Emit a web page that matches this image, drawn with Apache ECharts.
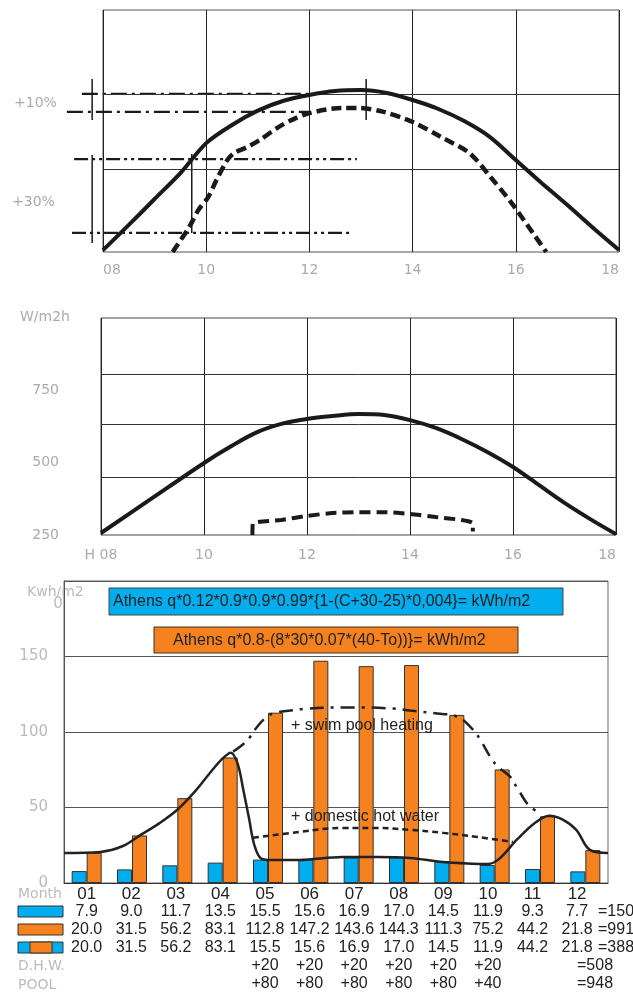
<!DOCTYPE html>
<html><head><meta charset="utf-8">
<script src="https://cdn.jsdelivr.net/npm/echarts@6/dist/echarts.min.js"></script>
<style>html,body{margin:0;padding:0;background:#fff}#c{width:633px;height:998px}</style>
</head><body><div id="c"></div>
<script>
// ---------- Panel 1 (relative output vs hour) ----------
const topHours = [8,8.5,9,9.5,10,10.5,11,11.5,12,12.5,13,13.5,14,14.5,15,15.5,16,16.5,17,17.5,18];
const topSolid = [0.8,11.2,21.9,32.6,45.0,52.5,58.4,62.5,64.9,66.5,66.9,65.7,62.8,59.1,54.1,47.5,38.0,28.5,19.4,9.9,0.8];
const topDashHours = [9.35,9.67,9.85,10.04,10.2,10.41,10.54,10.8,11.04,11.37,11.65,12,12.64,12.96,13.44,14,14.55,15.1,15.51,15.92,16.33,16.59];
const topDashVals = [0,10.3,17.4,22.7,29.8,38.0,40.9,43.4,46.3,51.2,54.5,57.4,59.5,59.5,57.9,53.7,47.5,40.9,31.0,20.2,7.9,0];
const topGridY = [65.3, 34.3];
const refY = [65.3, 57.9, 38.4, 7.9];
const refStart = [7.59, 7.30, 7.44, 7.40];
const refEnd = [12.2, 12.0, 12.92, 12.81];
const refKind = ['dd', 'dd', 'ddd', 'ddd'];
const markX = [7.79, 7.79, 13.1, 9.72];
const markY0 = [54.5, 3.7, 54.5, 7.9];
const markY1 = [71.5, 40.1, 71.5, 40.5];
const topLabels = ['+10%', '+30%'];

// ---------- Panel 2 (W/m2h vs hour) ----------
const midHours = [8,9,10,10.5,11,11.5,12,12.5,13,13.5,14,14.5,15,15.5,16,16.5,17,17.5,18];
const midSolid = [257,378,499,554,603,634,651,661,668,665,647,620,582,537,485,423,361,305,253];
const midDashHours = [10.94,10.95,11.5,12,12.5,13,13.5,14,14.5,15,15.22,15.22];
const midDashVals = [250,290,302,316,326,329,329,323,312,302,291,262];
const midGridY = [450, 634, 806];

// ---------- Panel 3 (monthly kWh/m2) ----------
const months = ['01','02','03','04','05','06','07','08','09','10','11','12'];
const blueVals = [7.9,9.0,11.7,13.5,15.5,15.6,16.9,17.0,14.5,11.9,9.3,7.7];
const orangeVals = [20.0,31.5,56.2,83.1,112.8,147.2,143.6,144.3,111.3,75.2,44.2,21.8];
const mixedVals = [20.0,31.5,56.2,83.1,15.5,15.6,16.9,17.0,14.5,11.9,44.2,21.8];
const dhwRow = ['','','','','+20','+20','+20','+20','+20','+20','',''];
const poolRow = ['','','','','+80','+80','+80','+80','+80','+40','',''];
const totals = ['=150','=991','=388','=508','=948'];
const combPos = [0.5,1.3,1.8,2.2,2.6,3.0,3.4,3.75,4.0,4.18,4.33,4.46,4.58,4.7,4.85,5.1,5.7,6.65,7.4,8.13,8.86,9.5,9.85,10.1,10.5,10.9,11.2,11.5,11.8,12.1,12.5];
const combVals = [19.9,20.6,24.5,32,39.5,48.5,61,74,82.5,86.3,79,61,43,25,16.2,15.2,15.3,17.3,17.3,16.6,13.9,12.8,12.6,16,29,40,44.5,42,35.2,21.9,19.9];
const poolPos = [4.23,4.54,4.71,4.98,5.2,5.49,5.86,6.65,7.1,7.76,8.13,8.73,9.17,9.52,9.68,9.9,10.07,10.34,10.52,10.78,11.04];
const poolVals = [87,94.3,101.6,110.2,112.9,114.2,115.5,116.2,116.2,115.5,114.2,112.2,110.2,101.6,95,83.7,77,70.4,61.8,50.5,46.5];
const dhwPos = [4.67,5.71,6.65,7.4,8.13,8.86,9.61,10.4];
const dhwVals = [29.9,33.9,36.5,36.5,35.2,33.2,30.5,27.2];

const zip = (a, b) => a.map((v, i) => [v, b[i]]);
const GRAY = '#aaaaaa';
const DK = '#1a1a1a';
const grayFont = '14px "DejaVu Sans"';
const txtFont = '16px "Liberation Sans"';

const series = [];
// Panel 1
series.push({type:'line', xAxisIndex:0, yAxisIndex:0, data: zip(topHours, topSolid), smooth:0.3, showSymbol:false,
  lineStyle:{color:DK, width:4}, z:5,
  markLine:{silent:true, symbol:'none', label:{show:false}, lineStyle:{color:'#333', width:1, type:'solid'},
    data: topGridY.map(v => ({yAxis:v}))}});
series.push({type:'line', xAxisIndex:0, yAxisIndex:0, data: zip(topDashHours, topDashVals), smooth:0.3, showSymbol:false,
  lineStyle:{color:DK, width:4.5, type:[10,5]}, z:5});
// annotation lines on the wider overlay axes (grid 3)
refY.forEach((y, i) => series.push({type:'line', xAxisIndex:4, yAxisIndex:3, showSymbol:false,
  data:[[refStart[i], y],[refEnd[i], y]],
  lineStyle:{color:DK, width:2.2, type: refKind[i]==='dd' ? [16,5,3,5] : [14,4,3,4,3,4]}, z:4}));
markX.forEach((x, i) => series.push({type:'line', xAxisIndex:4, yAxisIndex:3, showSymbol:false,
  data:[[x, markY0[i]],[x, markY1[i]]], lineStyle:{color:DK, width:1.5}, z:4}));
// Panel 2
series.push({type:'line', xAxisIndex:1, yAxisIndex:1, data: zip(midHours, midSolid), smooth:0.3, showSymbol:false,
  lineStyle:{color:DK, width:4}, z:5,
  markLine:{silent:true, symbol:'none', label:{show:false}, lineStyle:{color:'#333', width:1, type:'solid'},
    data: midGridY.map(v => ({yAxis:v}))}});
series.push({type:'line', xAxisIndex:1, yAxisIndex:1, data: zip(midDashHours, midDashVals), smooth:0.2, showSymbol:false,
  lineStyle:{color:DK, width:4, type:[11,6]}, z:5});
// Panel 3 bars
series.push({type:'bar', xAxisIndex:2, yAxisIndex:2, data: blueVals, barWidth:15, barGap:'0%',
  itemStyle:{color:'#00AEEF', borderColor:'#333', borderWidth:1}});
series.push({type:'bar', xAxisIndex:2, yAxisIndex:2, data: orangeVals, barWidth:15, barGap:'0%',
  itemStyle:{color:'#F5821F', borderColor:'#333', borderWidth:1}});
// Panel 3 curves
series.push({type:'line', xAxisIndex:3, yAxisIndex:2, data: zip(combPos, combVals), smooth:0.35, showSymbol:false,
  lineStyle:{color:'#222', width:2.5}, z:6});
series.push({type:'line', xAxisIndex:3, yAxisIndex:2, data: zip(poolPos, poolVals), smooth:0.4, showSymbol:false,
  lineStyle:{color:'#222', width:2.5, type:[14,7,3,7]}, z:6});
series.push({type:'line', xAxisIndex:3, yAxisIndex:2, data: zip(dhwPos, dhwVals), smooth:0.4, showSymbol:false,
  lineStyle:{color:'#222', width:2.5, type:[6,4]}, z:6});

const two = v => (v < 10 ? '0' : '') + v;

// per-column rich styles: the table columns drift slightly left as in the source
const rich = {};
months.forEach((m, i) => {
  const pad = [0, 1.5 * i, 0, 0];
  rich['m' + i] = {fontSize:17, fontFamily:'Liberation Sans', color:'#222', lineHeight:18, padding:pad};
  rich['v' + i] = {fontSize:16, fontFamily:'Liberation Sans', color:'#222', lineHeight:18, padding:pad};
});

const option = {
  animation:false,
  backgroundColor:'#fff',
  grid:[
    {left:103, top:10, width:516, height:242, show:true, borderColor:'#555', borderWidth:1, outerBoundsMode:'none'},
    {left:101, top:318, width:515, height:217, show:true, borderColor:'#444', borderWidth:1, outerBoundsMode:'none'},
    {left:64, top:581, width:544, height:302, show:true, borderColor:'#666', borderWidth:1, outerBoundsMode:'none'},
    {left:60, top:10, width:559, height:242, show:false, outerBoundsMode:'none'}
  ],
  xAxis:[
    {gridIndex:0, type:'value', min:8, max:18, interval:2, axisLine:{show:false}, axisTick:{show:false},
      splitLine:{show:true, lineStyle:{color:'#222', width:1}},
      axisLabel:{formatter:two, color:GRAY, fontSize:14, fontFamily:'DejaVu Sans', margin:11, alignMinLabel:'left', alignMaxLabel:'right'}},
    {gridIndex:1, type:'value', min:8, max:18, interval:2, axisLine:{show:false}, axisTick:{show:false},
      splitLine:{show:true, lineStyle:{color:'#222', width:1}},
      axisLabel:{formatter: v => v === 8 ? 'H 08' : two(v), color:GRAY, fontSize:14, fontFamily:'DejaVu Sans', margin:13, alignMaxLabel:'right'}},
    {gridIndex:2, type:'category', data: months, axisLine:{show:true, lineStyle:{color:'#333'}}, axisTick:{show:false},
      splitLine:{show:false},
      axisLabel:{interval:0, margin:2, lineHeight:18,
        formatter:(v, i) => ['{m' + i + '|' + months[i] + '}', '{v' + i + '|' + blueVals[i].toFixed(1) + '}', '{v' + i + '|' + orangeVals[i].toFixed(1) + '}',
          '{v' + i + '|' + mixedVals[i].toFixed(1) + '}', '{v' + i + '|' + dhwRow[i] + '}', '{v' + i + '|' + poolRow[i] + '}'].join('\n'),
        rich: rich}},
    {gridIndex:2, type:'value', min:0.5, max:12.5, show:false, position:'top'},
    {gridIndex:3, type:'value', min:8 - 43/51.6, max:18, show:false}
  ],
  yAxis:[
    {gridIndex:0, type:'value', min:0, max:100, show:false},
    {gridIndex:1, type:'value', min:250, max:1000, interval:250, axisLine:{show:false}, axisTick:{show:false}, splitLine:{show:false},
      axisLabel:{formatter: v => v === 1000 ? '' : String(v), color:GRAY, fontSize:14, fontFamily:'DejaVu Sans', margin:42}},
    {gridIndex:2, type:'value', min:0, max:200, interval:50, axisLine:{show:true, lineStyle:{color:'#555'}}, axisTick:{show:false},
      splitLine:{show:true, lineStyle:{color:'#555', width:1, type:'solid'}},
      axisLabel:{formatter: v => v === 200 ? '' : String(v), color:'#bbb', fontSize:15, fontFamily:'DejaVu Sans', margin:16}},
    {gridIndex:3, type:'value', min:0, max:100, show:false}
  ],
  series: series,
  graphic:[
    {type:'text', x:14, y:103, style:{text:topLabels[0], fill:GRAY, font:grayFont, verticalAlign:'middle'}},
    {type:'text', x:12, y:202, style:{text:topLabels[1], fill:GRAY, font:grayFont, verticalAlign:'middle'}},
    {type:'text', x:20, y:317, style:{text:'W/m2h', fill:GRAY, font:grayFont, verticalAlign:'middle'}},
    {type:'text', x:27, y:592, style:{text:'Kwh/m2', fill:'#bbb', font:grayFont, verticalAlign:'middle'}},
    {type:'text', x:58, y:604, style:{text:'0', fill:'#bbb', font:'15px "DejaVu Sans"', align:'center', verticalAlign:'middle'}},
    {type:'rect', shape:{x:109, y:588, width:454, height:27}, style:{fill:'#00AEEF', stroke:'#444', lineWidth:1}, z:10},
    {type:'text', x:113, y:602, z:11, style:{text:'Athens q*0.12*0.9*0.9*0.99*{1-(C+30-25)*0,004}= kWh/m2', fill:'#222', font:txtFont, verticalAlign:'middle'}},
    {type:'rect', shape:{x:154, y:627, width:364, height:26}, style:{fill:'#F5821F', stroke:'#333', lineWidth:1}, z:10},
    {type:'text', x:173, y:641, z:11, style:{text:'Athens q*0.8-(8*30*0.07*(40-To))}= kWh/m2', fill:'#222', font:txtFont, verticalAlign:'middle'}},
    {type:'text', x:291, y:726, z:11, style:{text:'+ swim pool heating', fill:'#222', font:txtFont, verticalAlign:'middle'}},
    {type:'text', x:291, y:817, z:11, style:{text:'+ domestic hot water', fill:'#222', font:txtFont, verticalAlign:'middle'}},
    {type:'text', x:18, y:894, style:{text:'Month', fill:'#bbb', font:grayFont, verticalAlign:'middle'}},
    {type:'rect', shape:{x:18, y:906, width:45, height:11}, style:{fill:'#00AEEF', stroke:'#333', lineWidth:1}},
    {type:'rect', shape:{x:18, y:924, width:45, height:11}, style:{fill:'#F5821F', stroke:'#333', lineWidth:1}},
    {type:'rect', shape:{x:18, y:942, width:45, height:11}, style:{fill:'#00AEEF', stroke:'#333', lineWidth:1}},
    {type:'rect', shape:{x:30, y:942, width:22, height:11}, style:{fill:'#F5821F', stroke:'#333', lineWidth:1}},
    {type:'text', x:18, y:966, style:{text:'D.H.W.', fill:'#bbb', font:grayFont, verticalAlign:'middle'}},
    {type:'text', x:18, y:985, style:{text:'POOL', fill:'#bbb', font:grayFont, verticalAlign:'middle'}},
    {type:'text', x:598, y:912, style:{text:totals[0], fill:'#222', font:txtFont, verticalAlign:'middle'}},
    {type:'text', x:598, y:930, style:{text:totals[1], fill:'#222', font:txtFont, verticalAlign:'middle'}},
    {type:'text', x:598, y:948, style:{text:totals[2], fill:'#222', font:txtFont, verticalAlign:'middle'}},
    {type:'text', x:577, y:966, style:{text:totals[3], fill:'#222', font:txtFont, verticalAlign:'middle'}},
    {type:'text', x:577, y:984, style:{text:totals[4], fill:'#222', font:txtFont, verticalAlign:'middle'}}
  ]
};
const chart = echarts.init(document.getElementById('c'), null, {renderer:'canvas'});
chart.setOption(option);
</script></body></html>
